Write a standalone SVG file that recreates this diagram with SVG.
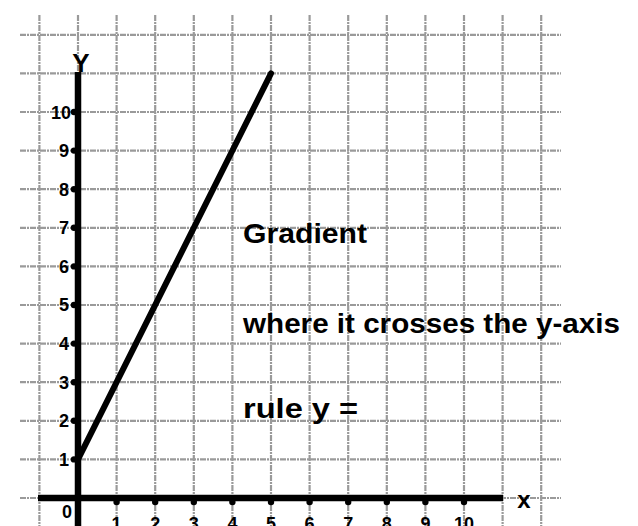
<svg xmlns="http://www.w3.org/2000/svg" width="638" height="526" viewBox="0 0 638 526">
<style>
.g{stroke:#9a9a9a;stroke-width:2.2;stroke-dasharray:6 1 2 1}
.ax{stroke:#000;stroke-width:6.5;stroke-linecap:butt}
.n{font-family:"Liberation Sans",Arial,sans-serif;font-weight:bold;font-size:18px;fill:#000}
.t{font-family:"Liberation Sans",Arial,sans-serif;font-weight:bold;font-size:27px;fill:#000}
.d{fill:#000}
</style>
<rect width="638" height="526" fill="#fff"/>
<g id="grid">
<line class="g" x1="39.4" y1="15" x2="39.4" y2="526"/>
<line class="g" x1="116.6" y1="15" x2="116.6" y2="526"/>
<line class="g" x1="155.2" y1="15" x2="155.2" y2="526"/>
<line class="g" x1="193.8" y1="15" x2="193.8" y2="526"/>
<line class="g" x1="232.4" y1="15" x2="232.4" y2="526"/>
<line class="g" x1="271" y1="15" x2="271" y2="526"/>
<line class="g" x1="309.6" y1="15" x2="309.6" y2="526"/>
<line class="g" x1="348.2" y1="15" x2="348.2" y2="526"/>
<line class="g" x1="386.8" y1="15" x2="386.8" y2="526"/>
<line class="g" x1="425.4" y1="15" x2="425.4" y2="526"/>
<line class="g" x1="464" y1="15" x2="464" y2="526"/>
<line class="g" x1="502.6" y1="15" x2="502.6" y2="526"/>
<line class="g" x1="541.2" y1="15" x2="541.2" y2="526"/>
<line class="g" x1="78" y1="15" x2="78" y2="73"/>
<line class="g" x1="20" y1="34.8" x2="561" y2="34.8"/>
<line class="g" x1="20" y1="73.4" x2="561" y2="73.4"/>
<line class="g" x1="20" y1="112" x2="561" y2="112"/>
<line class="g" x1="20" y1="150.6" x2="561" y2="150.6"/>
<line class="g" x1="20" y1="189.2" x2="561" y2="189.2"/>
<line class="g" x1="20" y1="227.8" x2="561" y2="227.8"/>
<line class="g" x1="20" y1="266.4" x2="561" y2="266.4"/>
<line class="g" x1="20" y1="305" x2="561" y2="305"/>
<line class="g" x1="20" y1="343.6" x2="561" y2="343.6"/>
<line class="g" x1="20" y1="382.2" x2="561" y2="382.2"/>
<line class="g" x1="20" y1="420.8" x2="561" y2="420.8"/>
<line class="g" x1="20" y1="459.4" x2="561" y2="459.4"/>
<line class="g" x1="20" y1="498" x2="561" y2="498"/>
</g>
<g id="axes">
<line class="ax" x1="78" y1="72" x2="78" y2="526"/>
<line class="ax" x1="38" y1="498" x2="503" y2="498"/>
<g id="ticks-y">
<circle class="d" cx="74" cy="112" r="3.2"/>
<circle class="d" cx="74" cy="150.6" r="3.2"/>
<circle class="d" cx="74" cy="189.2" r="3.2"/>
<circle class="d" cx="74" cy="227.8" r="3.2"/>
<circle class="d" cx="74" cy="266.4" r="3.2"/>
<circle class="d" cx="74" cy="305" r="3.2"/>
<circle class="d" cx="74" cy="343.6" r="3.2"/>
<circle class="d" cx="74" cy="382.2" r="3.2"/>
<circle class="d" cx="74" cy="420.8" r="3.2"/>
<circle class="d" cx="74" cy="459.4" r="3.2"/>
</g>
<g id="ticks-x">
<circle class="d" cx="116.6" cy="502" r="3.2"/>
<circle class="d" cx="155.2" cy="502" r="3.2"/>
<circle class="d" cx="193.8" cy="502" r="3.2"/>
<circle class="d" cx="232.4" cy="502" r="3.2"/>
<circle class="d" cx="271" cy="502" r="3.2"/>
<circle class="d" cx="309.6" cy="502" r="3.2"/>
<circle class="d" cx="348.2" cy="502" r="3.2"/>
<circle class="d" cx="386.8" cy="502" r="3.2"/>
<circle class="d" cx="425.4" cy="502" r="3.2"/>
<circle class="d" cx="464" cy="502" r="3.2"/>
</g>
</g>
<g id="graph-line">
<line x1="78" y1="459.4" x2="271" y2="73.4" stroke="#000" stroke-width="6" stroke-linecap="round"/>
</g>
<g id="y-labels" class="n" text-anchor="end">
<text x="71" y="118.5">10</text>
<text x="69" y="157">9</text>
<text x="69" y="195.6">8</text>
<text x="69" y="234.2">7</text>
<text x="69" y="272.8">6</text>
<text x="69" y="311.4">5</text>
<text x="69" y="350">4</text>
<text x="69" y="388.6">3</text>
<text x="69" y="427.2">2</text>
<text x="69" y="465.8">1</text>
</g>
<g id="x-labels" class="n" text-anchor="middle">
<text x="67" y="518">0</text>
<text x="116.6" y="530">1</text>
<text x="155.2" y="530">2</text>
<text x="193.8" y="530">3</text>
<text x="232.4" y="530">4</text>
<text x="271" y="530">5</text>
<text x="309.6" y="530">6</text>
<text x="348.2" y="530">7</text>
<text x="386.8" y="530">8</text>
<text x="425.4" y="530">9</text>
<text x="464" y="530">10</text>
</g>
<g id="axis-names" class="t" text-anchor="middle">
<text x="81" y="72" font-size="26">Y</text>
<text x="524" y="508" font-size="24">x</text>
</g>
<g id="notes" class="t">
<text x="243" y="243" textLength="124" lengthAdjust="spacingAndGlyphs">Gradient</text>
<text x="243" y="333" textLength="377" lengthAdjust="spacingAndGlyphs">where it crosses the y-axis</text>
<text x="243" y="418" textLength="115" lengthAdjust="spacingAndGlyphs">rule  y =</text>
</g>
</svg>
